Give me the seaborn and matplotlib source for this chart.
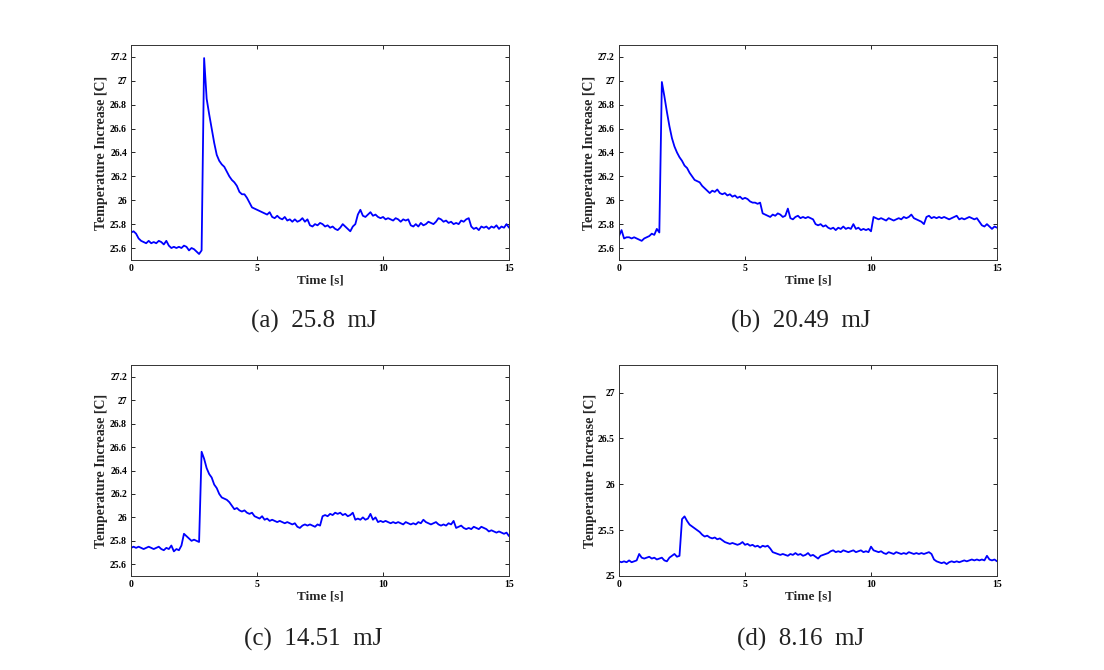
import matplotlib
matplotlib.use("Agg")
import matplotlib.pyplot as plt
import seaborn as sns
import numpy as np
import pandas as pd

# temperature traces sampled every 0.1 s from 0 to 15 s (one row per second)
temp_a = [
    25.73, 25.74, 25.72, 25.68, 25.66, 25.65, 25.64, 25.66, 25.64, 25.65,
    25.64, 25.66, 25.65, 25.63, 25.66, 25.62, 25.60, 25.61, 25.60, 25.61,
    25.60, 25.62, 25.61, 25.58, 25.60, 25.59, 25.57, 25.55, 25.58, 27.19,
    26.85, 26.72, 26.60, 26.48, 26.38, 26.33, 26.30, 26.28, 26.24, 26.20,
    26.17, 26.15, 26.12, 26.07, 26.05, 26.05, 26.02, 25.98, 25.94, 25.93,
    25.92, 25.91, 25.90, 25.89, 25.88, 25.90, 25.86, 25.85, 25.87, 25.85,
    25.84, 25.86, 25.83, 25.84, 25.82, 25.84, 25.82, 25.83, 25.85, 25.82,
    25.84, 25.79, 25.78, 25.80, 25.79, 25.81, 25.80, 25.78, 25.79, 25.77,
    25.78, 25.76, 25.75, 25.77, 25.80, 25.78, 25.76, 25.74, 25.78, 25.80,
    25.88, 25.92, 25.87, 25.86, 25.88, 25.90, 25.87, 25.88, 25.86, 25.85,
    25.86, 25.84, 25.85, 25.84, 25.83, 25.85, 25.84, 25.82, 25.84, 25.83,
    25.84, 25.79, 25.78, 25.80, 25.78, 25.81, 25.79, 25.80, 25.82, 25.81,
    25.80, 25.82, 25.85, 25.84, 25.82, 25.83, 25.81, 25.82, 25.80, 25.81,
    25.80, 25.83, 25.82, 25.84, 25.85, 25.78, 25.76, 25.77, 25.75, 25.78,
    25.77, 25.78, 25.76, 25.78, 25.77, 25.79, 25.76, 25.78, 25.77, 25.80,
    25.77,
]
temp_b = [
    25.70, 25.75, 25.68, 25.69, 25.69, 25.68, 25.69, 25.68, 25.67, 25.66,
    25.68, 25.69, 25.70, 25.72, 25.71, 25.76, 25.73, 26.99, 26.87, 26.74,
    26.62, 26.52, 26.45, 26.40, 26.36, 26.33, 26.29, 26.27, 26.23, 26.20,
    26.17, 26.16, 26.15, 26.12, 26.10, 26.08, 26.06, 26.08, 26.07, 26.09,
    26.06, 26.05, 26.06, 26.04, 26.05, 26.03, 26.04, 26.02, 26.03, 26.01,
    26.02, 26.01, 25.99, 25.98, 25.98, 25.97, 25.98, 25.89, 25.88, 25.87,
    25.86, 25.88, 25.87, 25.89, 25.88, 25.86, 25.87, 25.93, 25.85, 25.84,
    25.86, 25.87, 25.85, 25.86, 25.85, 25.86, 25.85, 25.84, 25.80, 25.79,
    25.80, 25.78, 25.79, 25.77, 25.76, 25.77, 25.75, 25.77, 25.76, 25.78,
    25.76, 25.77, 25.76, 25.80, 25.76, 25.77, 25.75, 25.76, 25.75, 25.76,
    25.74, 25.86, 25.85, 25.84, 25.85, 25.84, 25.83, 25.85, 25.84, 25.83,
    25.84, 25.85, 25.84, 25.86, 25.85, 25.86, 25.88, 25.85, 25.84, 25.83,
    25.82, 25.80, 25.86, 25.87, 25.85, 25.86, 25.85, 25.86, 25.85, 25.86,
    25.85, 25.84, 25.85, 25.86, 25.87, 25.84, 25.85, 25.84, 25.85, 25.86,
    25.85, 25.84, 25.85, 25.82, 25.79, 25.78, 25.80, 25.78, 25.76, 25.78,
    25.77,
]
temp_c = [
    25.74, 25.75, 25.74, 25.75, 25.74, 25.73, 25.74, 25.75, 25.74, 25.73,
    25.74, 25.75, 25.73, 25.72, 25.74, 25.73, 25.76, 25.71, 25.73, 25.72,
    25.76, 25.86, 25.84, 25.82, 25.80, 25.81, 25.80, 25.79, 26.56, 26.50,
    26.42, 26.37, 26.34, 26.28, 26.25, 26.20, 26.17, 26.16, 26.15, 26.13,
    26.10, 26.07, 26.08, 26.06, 26.05, 26.06, 26.04, 26.03, 26.04, 26.01,
    26.00, 25.99, 26.01, 25.98, 25.99, 25.97, 25.98, 25.97, 25.96, 25.97,
    25.96, 25.95, 25.96, 25.95, 25.94, 25.95, 25.92, 25.91, 25.93, 25.94,
    25.93, 25.94, 25.93, 25.92, 25.94, 25.93, 26.01, 26.02, 26.01, 26.03,
    26.02, 26.04, 26.03, 26.04, 26.02, 26.03, 26.01, 26.02, 26.04, 25.98,
    25.99, 25.98, 26.00, 25.98, 25.99, 26.03, 25.98, 26.00, 25.96, 25.97,
    25.96, 25.97, 25.96, 25.95, 25.96, 25.95, 25.96, 25.95, 25.94, 25.96,
    25.95, 25.94, 25.95, 25.94, 25.96, 25.95, 25.98, 25.96, 25.95, 25.94,
    25.95, 25.96, 25.94, 25.93, 25.94, 25.93, 25.95, 25.94, 25.97, 25.91,
    25.92, 25.93, 25.91, 25.90, 25.91, 25.90, 25.92, 25.91, 25.90, 25.92,
    25.91, 25.90, 25.88, 25.89, 25.88, 25.87, 25.88, 25.87, 25.86, 25.87,
    25.84,
]
temp_d = [
    25.16, 25.15, 25.16, 25.15, 25.17, 25.15, 25.16, 25.17, 25.24, 25.20,
    25.19, 25.20, 25.21, 25.19, 25.20, 25.18, 25.19, 25.20, 25.17, 25.16,
    25.20, 25.22, 25.24, 25.21, 25.22, 25.62, 25.65, 25.60, 25.56, 25.54,
    25.52, 25.50, 25.48, 25.45, 25.43, 25.44, 25.42, 25.41, 25.42, 25.40,
    25.41, 25.39, 25.37, 25.36, 25.35, 25.36, 25.35, 25.34, 25.35, 25.37,
    25.34, 25.35, 25.33, 25.34, 25.32, 25.33, 25.31, 25.33, 25.32, 25.33,
    25.30, 25.26, 25.25, 25.24, 25.23, 25.24, 25.23, 25.22, 25.24, 25.23,
    25.25, 25.23, 25.24, 25.22, 25.23, 25.25, 25.22, 25.23, 25.21, 25.19,
    25.22, 25.23, 25.24, 25.25, 25.27, 25.28, 25.26, 25.27, 25.26, 25.28,
    25.27, 25.26, 25.27, 25.28, 25.26, 25.27, 25.28, 25.26, 25.27, 25.26,
    25.32, 25.28, 25.27, 25.26, 25.27, 25.25, 25.24, 25.26, 25.25, 25.24,
    25.26, 25.25, 25.24, 25.25, 25.24, 25.26, 25.25, 25.24, 25.25, 25.24,
    25.25, 25.24, 25.25, 25.26, 25.24, 25.18, 25.16, 25.15, 25.14, 25.15,
    25.13, 25.15, 25.16, 25.15, 25.16, 25.15, 25.16, 25.17, 25.16, 25.17,
    25.18, 25.17, 25.18, 25.17, 25.18, 25.17, 25.22, 25.18, 25.17, 25.18,
    25.16,
]

captions = ["(a)  25.8  mJ", "(b)  20.49  mJ", "(c)  14.51  mJ", "(d)  8.16  mJ"]
x_ticks = [0, 5, 10, 15]
y_ticks_fine = [25.6, 25.8, 26, 26.2, 26.4, 26.6, 26.8, 27, 27.2]
y_ticks_coarse = [25, 25.5, 26, 26.5, 27]
y_limits = [(25.5, 27.3), (25.5, 27.3), (25.5, 27.3), (25.0, 27.3)]

sns.set_style("ticks")
plt.rcParams["font.family"] = ["Liberation Serif", "DejaVu Serif"]

fig = plt.figure(figsize=(11.04, 6.70), dpi=100)

# axes boxes in figure fractions
boxes = [
    [0.1187, 0.612, 0.3424, 0.3209],
    [0.5607, 0.612, 0.3424, 0.3209],
    [0.1187, 0.1403, 0.3424, 0.3149],
    [0.5607, 0.1403, 0.3424, 0.3149],
]
caption_pos = [(0.284, 0.520), (0.725, 0.520), (0.284, 0.046), (0.725, 0.046)]

series = [temp_a, temp_b, temp_c, temp_d]
for i, (vals, box) in enumerate(zip(series, boxes)):
    ax = fig.add_axes(box)
    df = pd.DataFrame({"time": np.linspace(0, 15, len(vals)), "temp": vals})
    sns.lineplot(data=df, x="time", y="temp", ax=ax, color="#0000ff",
                 linewidth=1.3, estimator=None)
    ax.set_xlim(0, 15)
    ax.set_ylim(*y_limits[i])
    ax.set_xticks(x_ticks)
    ax.set_xticklabels([str(t) for t in x_ticks])
    yt = y_ticks_coarse if i == 3 else y_ticks_fine
    ax.set_yticks(yt)
    ax.set_yticklabels([f"{v:g}" for v in yt])
    ax.tick_params(direction="in", length=3, width=0.6, top=True, right=True,
                   labelsize=7, pad=3, colors="black")
    for lab in ax.get_xticklabels() + ax.get_yticklabels():
        lab.set_fontweight("bold")
    for sp in ax.spines.values():
        sp.set_visible(True)
        sp.set_linewidth(0.7)
        sp.set_color("#333333")
    ax.set_xlabel("Time [s]", fontsize=9.5, fontweight="bold", labelpad=1)
    ax.set_ylabel("Temperature Increase [C]", fontsize=10, fontweight="bold",
                  labelpad=1)
    fig.text(caption_pos[i][0], caption_pos[i][1], captions[i], fontsize=18,
             ha="center", va="center", color="#222222")

fig.savefig("out.png", dpi=100)
